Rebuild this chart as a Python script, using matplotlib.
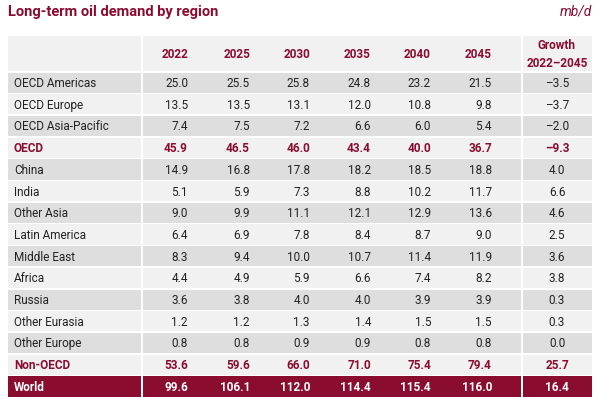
import matplotlib
matplotlib.use('Agg')
from matplotlib import pyplot as plt
from matplotlib.patches import Rectangle

years = ['2022', '2025', '2030', '2035', '2040', '2045']
regions = ['OECD Americas', 'OECD Europe', 'OECD Asia-Pacific', 'OECD', 'China', 'India',
           'Other Asia', 'Latin America', 'Middle East', 'Africa', 'Russia', 'Other Eurasia',
           'Other Europe', 'Non-OECD', 'World']
values = [
    [25.0, 25.5, 25.8, 24.8, 23.2, 21.5],
    [13.5, 13.5, 13.1, 12.0, 10.8, 9.8],
    [7.4, 7.5, 7.2, 6.6, 6.0, 5.4],
    [45.9, 46.5, 46.0, 43.4, 40.0, 36.7],
    [14.9, 16.8, 17.8, 18.2, 18.5, 18.8],
    [5.1, 5.9, 7.3, 8.8, 10.2, 11.7],
    [9.0, 9.9, 11.1, 12.1, 12.9, 13.6],
    [6.4, 6.9, 7.8, 8.4, 8.7, 9.0],
    [8.3, 9.4, 10.0, 10.7, 11.4, 11.9],
    [4.4, 4.9, 5.9, 6.6, 7.4, 8.2],
    [3.6, 3.8, 4.0, 4.0, 3.9, 3.9],
    [1.2, 1.2, 1.3, 1.4, 1.5, 1.5],
    [0.8, 0.8, 0.9, 0.9, 0.8, 0.8],
    [53.6, 59.6, 66.0, 71.0, 75.4, 79.4],
    [99.6, 106.1, 112.0, 114.4, 115.4, 116.0],
]
growth = [-3.5, -3.7, -2.0, -9.3, 4.0, 6.6, 4.6, 2.5, 3.6, 3.8, 0.3, 0.3, 0.0, 25.7, 16.4]

MAROON = '#8a0c2f'
DARK = '#dedede'
LIGHT = '#f1f1f1'
FONT = ['Roboto', 'DejaVu Sans']

fig = plt.figure(figsize=(6, 4.02), dpi=100)
ax = fig.add_axes([0, 0, 1, 1])
ax.set_xlim(0, 600)
ax.set_ylim(402, 0)
ax.axis('off')

left, right = 8, 592
sep1, sep2 = 141, 521
col_x = [188, 250, 310, 371, 431, 492]
growth_x = 557
top_hdr, hdr_bot = 37, 72
row_h = 21.7
gap = 1.5

ax.text(8, 12, 'Long-term oil demand by region', color=MAROON, fontsize=10.5,
        fontweight='bold', va='center', ha='left', family=FONT)
ax.text(592, 12, 'mb/d', color=MAROON, fontsize=10, style='italic',
        va='center', ha='right', family=FONT)

# header
for x0, x1 in [(left, sep1), (sep1 + 2, sep2), (sep2 + 2, right)]:
    ax.add_patch(Rectangle((x0, top_hdr), x1 - x0, hdr_bot - top_hdr, color=LIGHT, lw=0))
hy = (top_hdr + hdr_bot) / 2
for x, y in zip(col_x, years):
    ax.text(x, hy, y, ha='right', va='center', color=MAROON, fontsize=8.5,
            fontweight='bold', family=FONT)
ax.text(growth_x, hy, 'Growth\n2022\u20132045', ha='center', va='center', color=MAROON,
        fontsize=8.5, fontweight='bold', linespacing=1.5, family=FONT)

for i, name in enumerate(regions):
    y0 = hdr_bot + gap + i * row_h
    yc = y0 + (row_h - gap) / 2
    if name == 'World':
        bg, tc, bold = MAROON, 'white', True
    elif name in ('OECD', 'Non-OECD'):
        bg, tc, bold = (DARK if i % 2 == 0 else LIGHT), MAROON, True
    else:
        bg, tc, bold = (DARK if i % 2 == 0 else LIGHT), '#222222', False
    for x0, x1 in [(left, sep1), (sep1 + 2, sep2), (sep2 + 2, right)]:
        ax.add_patch(Rectangle((x0, y0), x1 - x0, row_h - gap, color=bg, lw=0))
    fw = 'bold' if bold else 'normal'
    ax.text(14, yc, name, ha='left', va='center', color=tc, fontsize=8.5,
            fontweight=fw, family=FONT)
    for x, v in zip(col_x, values[i]):
        ax.text(x, yc, f'{v:.1f}', ha='right', va='center', color=tc, fontsize=8.5,
                fontweight=fw, family=FONT)
    g = growth[i]
    gs = f'{g:.1f}'.replace('-', '\u2013')
    ax.text(growth_x, yc, gs, ha='center', va='center', color=tc, fontsize=8.5,
            fontweight=fw, family=FONT)

fig.savefig('out.png', dpi=100)
